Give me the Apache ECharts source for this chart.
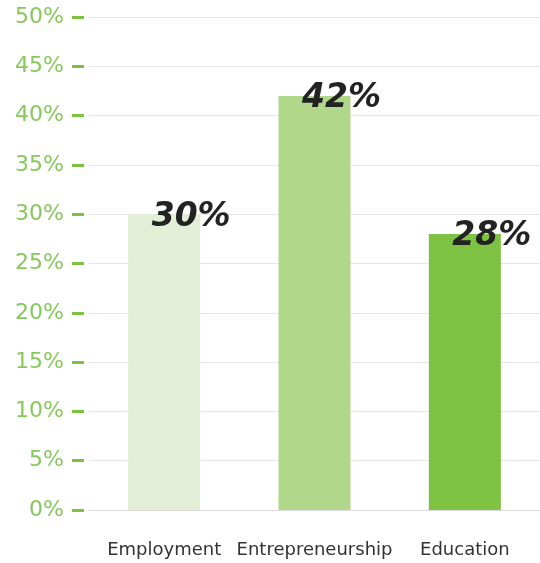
<!DOCTYPE html>
<html><head><meta charset="utf-8">
<script src="https://cdn.jsdelivr.net/npm/echarts@6/dist/echarts.min.js"></script>
<style>html,body{margin:0;padding:0;background:#fff}#c{width:540px;height:563px}</style>
</head><body><div id="c"></div>
<script>
const categories = ['Employment', 'Entrepreneurship', 'Education'];
const values = [30, 42, 28];
const barColors = ['#e2efd6', '#b1d78b', '#7dc242'];
const yTicks = [0, 5, 10, 15, 20, 25, 30, 35, 40, 45, 50];

const chart = echarts.init(document.getElementById('c'));
chart.setOption({
  animation: false,
  grid: { left: 89, top: 17, width: 456, bottom: 53, containLabel: false },
  xAxis: {
    type: 'category',
    data: categories,
    axisLine: { show: true, lineStyle: { color: '#dcdcdc', width: 1 } },
    axisTick: { show: false },
    axisLabel: { color: '#333', fontSize: 18, fontFamily: 'DejaVu Sans', margin: 31, interval: 0 }
  },
  yAxis: {
    type: 'value',
    min: yTicks[0],
    max: yTicks[yTicks.length - 1],
    interval: 5,
    offset: 5,
    axisLine: { show: false },
    axisTick: { show: true, length: 12, lineStyle: { color: '#7dc242', width: 3 } },
    axisLabel: { color: '#86c95a', fontSize: 22, fontFamily: 'DejaVu Sans', margin: 20, formatter: '{value}%' },
    splitLine: { show: true, lineStyle: { color: '#e6e6e6', width: 1 } }
  },
  series: [{
    type: 'bar',
    barWidth: 72,
    data: values.map((v, i) => ({ value: v, itemStyle: { color: barColors[i] } })),
    label: {
      show: true,
      position: [63, 3],
      align: 'center',
      verticalAlign: 'middle',
      formatter: '{c}%',
      color: '#222',
      fontSize: 33,
      fontWeight: 'bold',
      fontStyle: 'italic',
      fontFamily: 'DejaVu Sans'
    }
  }]
});
</script></body></html>
